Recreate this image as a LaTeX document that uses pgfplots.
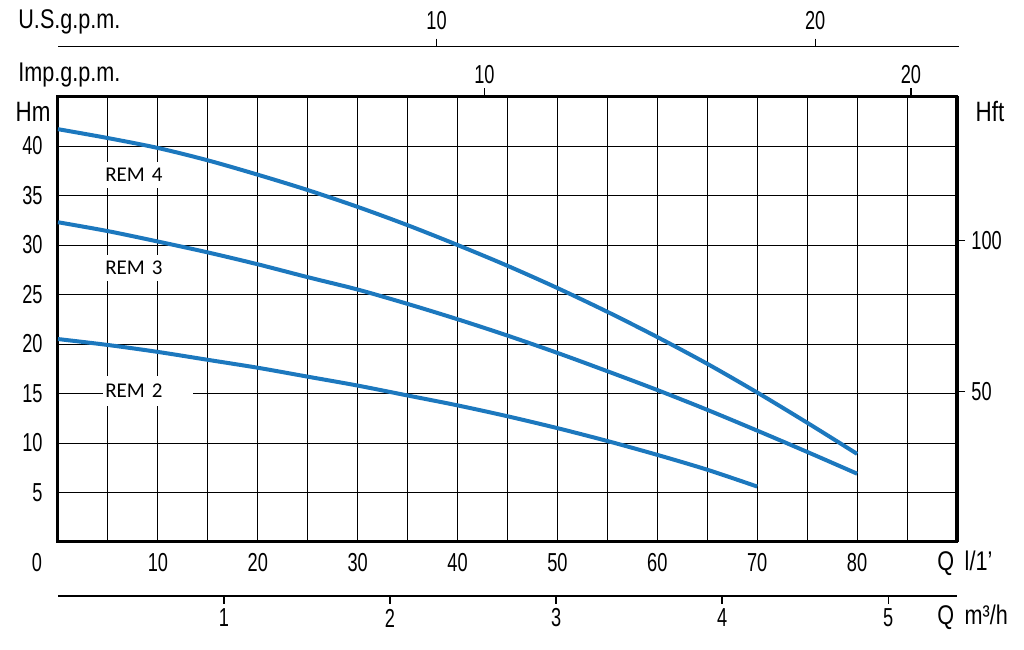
\documentclass[border=0pt]{standalone}
\usepackage{pgfplots}
\pgfplotsset{compat=1.18}
\usepackage{fontspec}
\setmainfont{Liberation Sans}[FakeStretch=0.8]
\newfontfamily\numfont{Liberation Sans}[FakeStretch=0.7]
\newfontfamily\remfont{Carlito}
\definecolor{curveblue}{RGB}{28,120,190}
\newcommand\lbl{\fontsize{13.5}{15}\selectfont}
\newcommand\num{\numfont\fontsize{13}{15}\selectfont}
\begin{document}
\begin{tikzpicture}
\useasboundingbox (-29pt,-53.5pt) rectangle (483pt,271pt);
% main axis
\begin{axis}[
  at={(0pt,0pt)}, anchor=south west,
  scale only axis, width=449.5pt, height=222.75pt,
  xmin=0, xmax=90, ymin=0, ymax=45,
  xtick={10,20,...,80}, minor xtick={5,15,...,85},
  ytick={5,10,...,40},
  grid=both,
  major grid style={black, line width=0.5pt},
  minor grid style={black, line width=0.5pt},
  major tick length=0pt, minor tick length=0pt,
  axis line style={line width=1.5pt, black},
  /pgf/number format/assume math mode=true,
  tick label style={font=\num},
  xticklabel style={anchor=center, yshift=-10.5pt},
  yticklabel style={anchor=east, inner sep=0pt, xshift=-7.5pt},
  clip=false,
]
\addplot[curveblue, line width=2pt, smooth] coordinates {
 (0,41.7) (5,40.8) (10,39.8) (15,38.55) (20,37.1) (25,35.55) (30,33.85) (35,32.0)
 (40,30.0) (45,27.9) (50,25.65) (55,23.25) (60,20.7) (65,18.0) (70,15.1) (75,12.05) (80,8.9)};
\addplot[curveblue, line width=2pt, smooth] coordinates {
 (0,32.3) (5,31.4) (10,30.35) (15,29.25) (20,28.05) (25,26.75) (30,25.5) (35,24.05)
 (40,22.5) (45,20.85) (50,19.1) (55,17.25) (60,15.35) (65,13.35) (70,11.25) (75,9.1) (80,6.9)};
\addplot[curveblue, line width=2pt, smooth] coordinates {
 (0,20.5) (5,19.9) (10,19.2) (15,18.4) (20,17.6) (25,16.7) (30,15.8) (35,14.8)
 (40,13.8) (45,12.7) (50,11.5) (55,10.2) (60,8.8) (65,7.3) (70,5.6)};
\node[anchor=west, fill=white, inner xsep=1pt, inner ysep=0pt, text width=43pt, minimum height=13pt, font=\remfont\fontsize{10.5}{12}\selectfont] at (axis cs:4.5,37.07) {REM 4};
\node[anchor=west, fill=white, inner xsep=1pt, inner ysep=0pt, text width=43pt, minimum height=13pt, font=\remfont\fontsize{10.5}{12}\selectfont] at (axis cs:4.5,27.7) {REM 3};
\node[anchor=west, fill=white, inner xsep=1pt, inner ysep=0pt, text width=43pt, minimum height=15pt, font=\remfont\fontsize{10.5}{12}\selectfont] at (axis cs:4.5,15.25) {REM 2};
\end{axis}
% Imp.g.p.m. (top of the box)
\begin{axis}[
  at={(0pt,0pt)}, anchor=south west,
  scale only axis, width=449.5pt, height=222.75pt,
  xmin=0, xmax=21.08, ymin=0, ymax=1,
  axis x line*=top, axis y line=none,
  axis line style={-, line width=1.5pt, black},
  xtick={10,20}, xtick align=outside, major tick length=4pt,
  xtick style={line width=0.6pt, black},
  /pgf/number format/assume math mode=true,
  tick label style={font=\num},
  xticklabel style={anchor=center, yshift=7pt},
]
\end{axis}
% Hft (right)
\begin{axis}[
  at={(0pt,0pt)}, anchor=south west,
  scale only axis, width=449.5pt, height=222.75pt,
  xmin=0, xmax=1, ymin=0, ymax=147.64,
  axis y line*=right, axis x line=none,
  axis line style={-, line width=1.5pt, black},
  ytick={50,100}, ytick align=outside, major tick length=4pt,
  ytick style={line width=0.6pt, black},
  /pgf/number format/assume math mode=true,
  tick label style={font=\num},
  yticklabel style={anchor=west, inner sep=0pt, xshift=3pt},
]
\end{axis}
% U.S.g.p.m. (separate line above)
\begin{axis}[
  at={(0pt,247.65pt)}, anchor=north west,
  scale only axis, width=450.5pt, height=1pt,
  xmin=0, xmax=23.8, ymin=0, ymax=1,
  axis x line*=top, axis y line=none,
  axis line style={-, line width=0.6pt, black},
  xtick={10,20}, xtick align=outside, major tick length=4pt,
  xtick style={line width=0.6pt, black},
  /pgf/number format/assume math mode=true,
  tick label style={font=\num},
  xticklabel style={anchor=center, yshift=9.3pt},
]
\end{axis}
% m3/h (separate line below)
\begin{axis}[
  at={(0pt,-27pt)}, anchor=south west,
  scale only axis, width=449.5pt, height=1pt,
  xmin=0, xmax=5.415, ymin=0, ymax=1,
  axis x line*=bottom, axis y line=none,
  axis line style={-, line width=0.6pt, black},
  xtick={1,2,3,4,5}, xtick align=outside, major tick length=4pt,
  xtick style={line width=0.6pt, black},
  /pgf/number format/assume math mode=true,
  tick label style={font=\num},
  xticklabel style={anchor=center, yshift=-7pt},
]
\end{axis}
\node[anchor=west, font=\lbl, inner sep=0pt] at (-20pt,260pt) {U.S.g.p.m.};
\node[anchor=west, font=\lbl, inner sep=0pt] at (-20pt,233.5pt) {Imp.g.p.m.};
\node[font=\lbl\fontsize{14}{16}\selectfont, inner sep=0pt] at (-12.5pt,215pt) {Hm};
\node[font=\lbl\fontsize{14}{16}\selectfont, inner sep=0pt] at (466pt,215.5pt) {Hft};
\node[font=\num, inner sep=0pt] at (-10.5pt,-10.5pt) {0};
\node[anchor=west, font=\lbl, inner sep=0pt] at (439.5pt,-10.5pt) {Q\, l/1'};
\node[anchor=west, font=\lbl, inner sep=0pt] at (439.5pt,-37.5pt) {Q\, m³/h};
\end{tikzpicture}
\end{document}
